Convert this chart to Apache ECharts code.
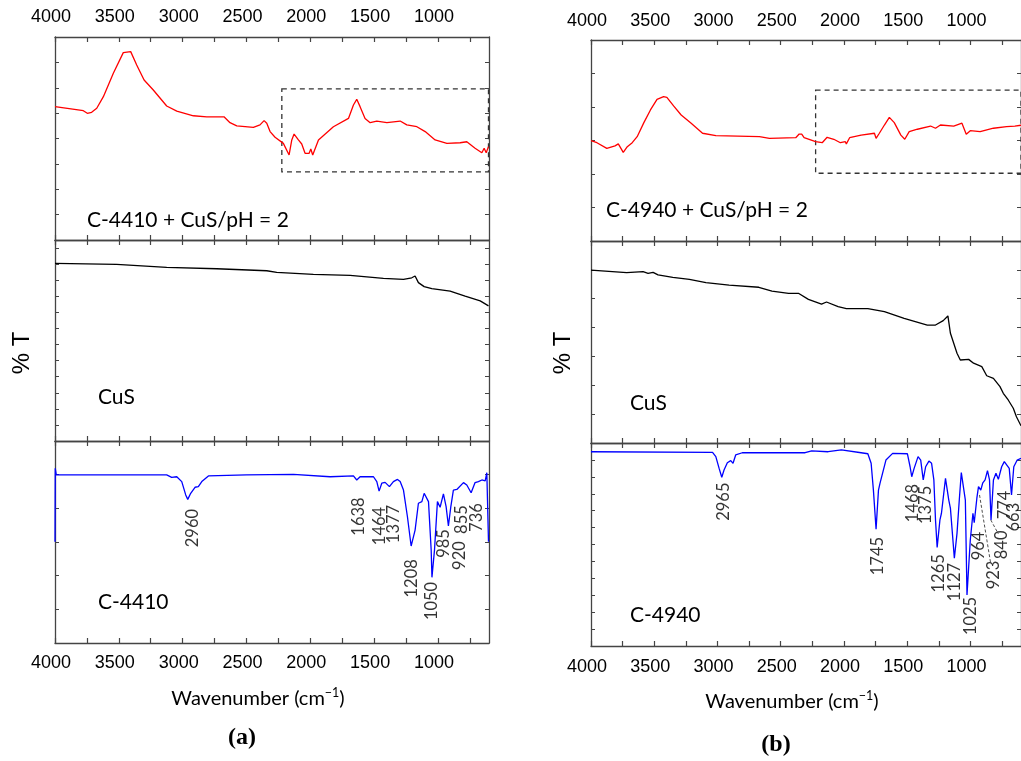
<!DOCTYPE html>
<html>
<head>
<meta charset="utf-8">
<title>FTIR C-4410 / C-4940</title>
<script src="https://cdn.jsdelivr.net/npm/echarts@6/dist/echarts.min.js"></script>
<style>
html, body { margin: 0; padding: 0; background: #fff; }
#chart { width: 1021px; height: 761px; }
</style>
</head>
<body>
<div id="chart"></div>
<script>
// wavenumber axis (cm-1), drawn reversed
const xTicks = [750, 1000, 1250, 1500, 1750, 2000, 2250, 2500, 2750, 3000, 3250, 3500, 3750, 4000];
const xLabels = [1000, 1500, 2000, 2500, 3000, 3500, 4000];

// spectra, [wavenumber, %T in arbitrary panel units]
// panel (a)
const redA = [[4000,65.7],[3778,63.7],[3747,62.4],[3713,62.9],[3673,64.9],[3621,70.6],[3543,82.1],[3465,92.3],[3407,92.8],[3360,86.2],[3302,78.8],[3230,73.9],[3125,66.0],[3046,63.5],[2916,61.2],[2811,60.7],[2676,60.7],[2629,57.8],[2576,56.2],[2446,55.5],[2394,56.7],[2362,58.8],[2341,57.5],[2315,53.4],[2276,50.6],[2211,47.6],[2166,41.9],[2145,49.3],[2127,52.2],[2093,49.3],[2067,47.3],[2041,42.7],[2009,42.7],[1996,44.8],[1981,41.9],[1936,49.3],[1819,55.8],[1701,59.9],[1662,66.5],[1636,69.3],[1610,65.7],[1571,59.9],[1531,57.8],[1479,58.6],[1400,57.8],[1296,58.6],[1244,56.7],[1165,55.8],[1100,53.4],[1022,49.3],[930,47.6],[826,47.9],[774,48.4],[709,45.2],[656,43.0],[638,45.2],[622,43.0],[604,46.0]];
const blackA = [[4000,88.4],[3517,87.9],[3125,86.4],[2733,85.7],[2341,84.7],[2263,83.9],[1976,82.9],[1688,82.4],[1427,80.9],[1270,80.4],[1205,81.2],[1179,82.1],[1153,78.8],[1108,76.8],[1048,75.8],[904,74.6],[852,73.5],[787,72.1],[669,69.7],[604,67.2]];
const blueA = [[4000,50.1],[3998,86.5],[3990,83.2],[3125,83.2],[3086,82.0],[3046,82.3],[3007,79.9],[2976,73.3],[2960,71.1],[2937,74.1],[2903,77.1],[2877,77.4],[2850,79.9],[2798,82.7],[2500,83.2],[2132,83.5],[1845,82.3],[1662,82.7],[1636,80.7],[1610,82.3],[1505,82.3],[1479,79.9],[1461,75.2],[1440,79.1],[1414,79.5],[1380,77.4],[1349,79.9],[1317,81.0],[1296,79.9],[1270,75.7],[1239,62.5],[1210,48.0],[1179,55.9],[1153,69.2],[1126,70.0],[1108,74.1],[1074,70.0],[1053,46.0],[1047,32.5],[1027,46.0],[1004,70.0],[983,67.2],[957,73.8],[936,67.5],[918,57.9],[899,67.5],[879,75.7],[852,76.0],[800,79.4],[774,78.2],[740,74.4],[709,79.4],[683,79.9],[656,80.7],[630,80.3],[617,84.3],[604,50.1]];
// panel (b)
const redB = [[4000,49.9],[3953,48.9],[3875,46.1],[3810,47.3],[3784,48.3],[3745,44.1],[3713,46.9],[3674,48.9],[3635,51.9],[3582,58.9],[3530,65.2],[3478,70.5],[3426,71.8],[3400,71.5],[3347,67.2],[3287,62.7],[3208,58.6],[3118,53.6],[3013,52.4],[2668,51.9],[2589,51.1],[2381,51.4],[2354,53.2],[2334,53.2],[2315,51.4],[2224,49.4],[2172,48.9],[2133,51.6],[2080,50.6],[2028,48.9],[1989,49.4],[1981,48.3],[1955,51.4],[1864,52.7],[1759,53.6],[1746,51.1],[1720,53.6],[1680,57.7],[1641,61.5],[1602,58.9],[1550,52.7],[1519,50.6],[1484,54.4],[1419,55.6],[1315,57.2],[1276,56.1],[1237,57.7],[1132,57.2],[1067,58.6],[1033,53.1],[1001,54.9],[923,54.4],[818,56.1],[714,56.9],[649,57.2],[600,57.6]];
const blackB = [[4000,85.6],[3718,84.3],[3588,84.8],[3549,84.0],[3509,84.5],[3470,83.2],[3353,82.0],[3222,81.0],[3091,79.4],[2908,78.2],[2673,77.1],[2569,75.2],[2438,74.1],[2360,74.1],[2281,71.1],[2177,68.8],[2138,69.8],[2046,67.5],[1981,66.5],[1811,66.5],[1680,65.0],[1524,61.7],[1341,58.4],[1276,58.4],[1215,60.6],[1178,62.9],[1158,54.3],[1106,44.4],[1080,41.1],[1014,41.4],[975,39.5],[910,37.8],[871,33.3],[818,32.0],[766,27.9],[740,24.6],[701,21.3],[661,17.2],[636,13.0],[600,8.5]];
const blueB = [[4000,95.7],[3039,95.4],[3013,93.3],[2987,87.5],[2966,83.1],[2948,86.7],[2922,90.3],[2895,91.3],[2877,90.0],[2856,94.1],[2804,95.2],[2307,95.2],[2255,96.1],[2125,95.7],[2020,96.6],[1864,95.2],[1811,94.7],[1785,90.0],[1767,76.8],[1746,57.5],[1727,76.8],[1715,80.1],[1700,79.6],[1668,91.6],[1615,94.9],[1498,94.7],[1477,88.3],[1464,83.4],[1445,87.5],[1414,93.3],[1393,91.6],[1373,81.8],[1354,88.3],[1328,91.1],[1307,90.0],[1289,81.8],[1276,62.1],[1263,48.6],[1241,62.1],[1229,65.4],[1197,82.6],[1171,71.9],[1158,67.8],[1127,43.2],[1106,55.5],[1088,71.9],[1072,85.4],[1040,71.9],[1027,25.1],[1001,52.2],[980,65.4],[970,60.7],[949,72.8],[936,78.5],[918,76.8],[902,80.4],[884,81.8],[865,86.4],[849,81.8],[837,62.1],[818,81.8],[798,85.1],[779,82.1],[753,88.3],[732,90.8],[693,87.5],[675,74.4],[657,88.3],[630,91.6],[600,92.5]];

// peak labels: [text, wavenumber of label centre, height of label centre]
const peaksA = [['2960',2921,56.9],['1638',1618,62.6],['1464',1458,57.9],['1377',1343,58.9],['1208',1205,32.0],['1050',1048,20.8],['985',957,49.3],['920',826,43.3],['855',813,61.1],['736',695,62.1]];
const peaksB = [['2965',2953,71.1],['1745',1733,44.3],['1468',1459,70.4],['1375',1354,69.5],['1265',1249,35.8],['1127',1127,31.5],['1025',1001,14.8],['964',936,49.3],['923',818,35.0],['840',753,49.8],['774',727,69.5],['663',661,63.5]];
// dashed leaders in (b)
const lead923 = [[928,74.4],[839,40.4]];
const lead840 = [[839,62.1],[779,55.2]];
// dashed boxes over the treated spectra: [[wn, top], [wn, bottom]]
const boxA = [[2223,74.4],[604,33.6]];
const boxB = [[2224,75.1],[600,33.7]];

const sampleNames = ['C-4410 + CuS/pH = 2', 'CuS', 'C-4410', 'C-4940 + CuS/pH = 2', 'CuS', 'C-4940'];

const grids = [
    {left: 55, top: 37, width: 434, height: 203},
    {left: 55, top: 240, width: 434, height: 201},
    {left: 55, top: 441, width: 434, height: 202},
    {left: 591, top: 40, width: 434, height: 201},
    {left: 591, top: 241, width: 434, height: 202},
    {left: 591, top: 443, width: 434, height: 203}
];
// y tick spacing per panel (axis runs 0..100)
const yStep = [12.5, 8, 100 / 6, 100 / 6, 100 / 7, 100 / 12];

const frame = '#444';

function xAxisFor(g, pos, showLabel, margin) {
    return {
        type: 'value', gridIndex: g, position: pos, min: 600, max: 4000, inverse: true,
        axisLine: {show: true, onZero: false, lineStyle: {color: frame, width: 1.3}},
        axisTick: {show: true, inside: true, length: 5, customValues: xTicks, lineStyle: {color: frame, width: 1.2}},
        axisLabel: {
            show: showLabel, customValues: xLabels, margin: margin,
            formatter: v => String(v),
            color: '#000', fontFamily: 'Liberation Sans', fontSize: 18, padding: [0, 8, 0, 0]
        },
        splitLine: {show: false}
    };
}

function yAxisFor(g, pos) {
    return {
        type: 'value', gridIndex: g, position: pos, min: 0, max: 100, interval: yStep[g],
        axisLine: {show: true, onZero: false, lineStyle: {color: frame, width: 1.3}},
        axisTick: {show: true, inside: true, length: 4, lineStyle: {color: frame, width: 1}},
        axisLabel: {show: false},
        splitLine: {show: false}
    };
}

const xAxes = [];
const yAxes = [];
grids.forEach((gr, g) => {
    const isTop = g === 0 || g === 3;
    const isBottom = g === 2 || g === 5;
    xAxes.push(xAxisFor(g, 'bottom', isBottom, g === 5 ? 12 : 11));
    xAxes.push(xAxisFor(g, 'top', isTop, g === 3 ? 10 : 11));
    yAxes.push(yAxisFor(g, 'left'));
    yAxes.push(yAxisFor(g, 'right'));
});

function spectrum(g, data, color, box) {
    const s = {
        type: 'line', xAxisIndex: 2 * g, yAxisIndex: 2 * g, data: data,
        showSymbol: false, symbol: 'none', silent: true,
        lineStyle: {color: color, width: 1.3}
    };
    if (box) {
        s.markArea = {
            silent: true,
            itemStyle: {color: 'rgba(0,0,0,0)', borderColor: '#333', borderWidth: 1.3, borderType: [5, 4]},
            data: [[{coord: box[0]}, {coord: box[1]}]]
        };
    }
    return s;
}

function peakLabels(g, peaks) {
    return {
        type: 'scatter', xAxisIndex: 2 * g, yAxisIndex: 2 * g, symbolSize: 0, silent: true,
        data: peaks.map(p => ({name: p[0], value: [p[1], p[2]]})),
        label: {
            show: true, position: 'inside', rotate: 90, formatter: '{b}',
            color: '#000', fontFamily: 'Lato', fontSize: 16.5
        }
    };
}

function leader(g, pts) {
    return {
        type: 'line', xAxisIndex: 2 * g, yAxisIndex: 2 * g, data: pts, symbol: 'none', silent: true,
        lineStyle: {color: '#222', width: 0.8, type: [3, 2]}
    };
}

const series = [
    spectrum(0, redA, '#ff0000', boxA),
    spectrum(1, blackA, '#000000'),
    spectrum(2, blueA, '#0000ff'),
    spectrum(3, redB, '#ff0000', boxB),
    spectrum(4, blackB, '#000000'),
    spectrum(5, blueB, '#0000ff'),
    peakLabels(2, peaksA),
    peakLabels(5, peaksB),
    leader(5, lead923),
    leader(5, lead840)
];

// text placed by pixel
const sampleText = [[87, 220], [98, 397], [98, 602], [606, 210], [630, 403], [630, 615]];
const graphic = sampleNames.map((t, i) => ({
    type: 'text', x: sampleText[i][0], y: sampleText[i][1], silent: true,
    style: {text: t, fontFamily: 'Lato', fontSize: 21, fill: '#000', align: 'left', verticalAlign: 'middle'}
}));
[[22, 353], [563, 353]].forEach(p => {
    graphic.push({
        type: 'text', x: p[0], y: p[1], rotation: Math.PI / 2, silent: true,
        style: {text: '% T', fontFamily: 'Liberation Sans', fontSize: 24, fill: '#000', align: 'center', verticalAlign: 'middle'}
    });
});
[[258, 697], [792, 700]].forEach(p => {
    graphic.push({
        type: 'text', x: p[0], y: p[1], silent: true,
        style: {
            text: '{a|Wavenumber (cm}{s|\u22121}{a|)}', fill: '#000', align: 'center', verticalAlign: 'middle',
            rich: {
                a: {fontFamily: 'Lato', fontSize: 20, lineHeight: 24, verticalAlign: 'bottom'},
                s: {fontFamily: 'Lato', fontSize: 12.5, lineHeight: 24, verticalAlign: 'top', padding: [1, 0, 0, 0]}
            }
        }
    });
});
[['(a)', 242, 738], ['(b)', 776, 745]].forEach(p => {
    graphic.push({
        type: 'text', x: p[1], y: p[2], silent: true,
        style: {text: p[0], fontFamily: 'Liberation Serif', fontWeight: 'bold', fontSize: 24, fill: '#000', align: 'center', verticalAlign: 'middle'}
    });
});

const chart = echarts.init(document.getElementById('chart'), null, {renderer: 'canvas'});
chart.setOption({
    animation: false,
    backgroundColor: '#fff',
    grid: grids.map(g => Object.assign({containLabel: false}, g)),
    xAxis: xAxes,
    yAxis: yAxes,
    series: series,
    graphic: graphic
});
window.addEventListener('resize', function() {
    chart.resize();
});
</script>
</body>
</html>
